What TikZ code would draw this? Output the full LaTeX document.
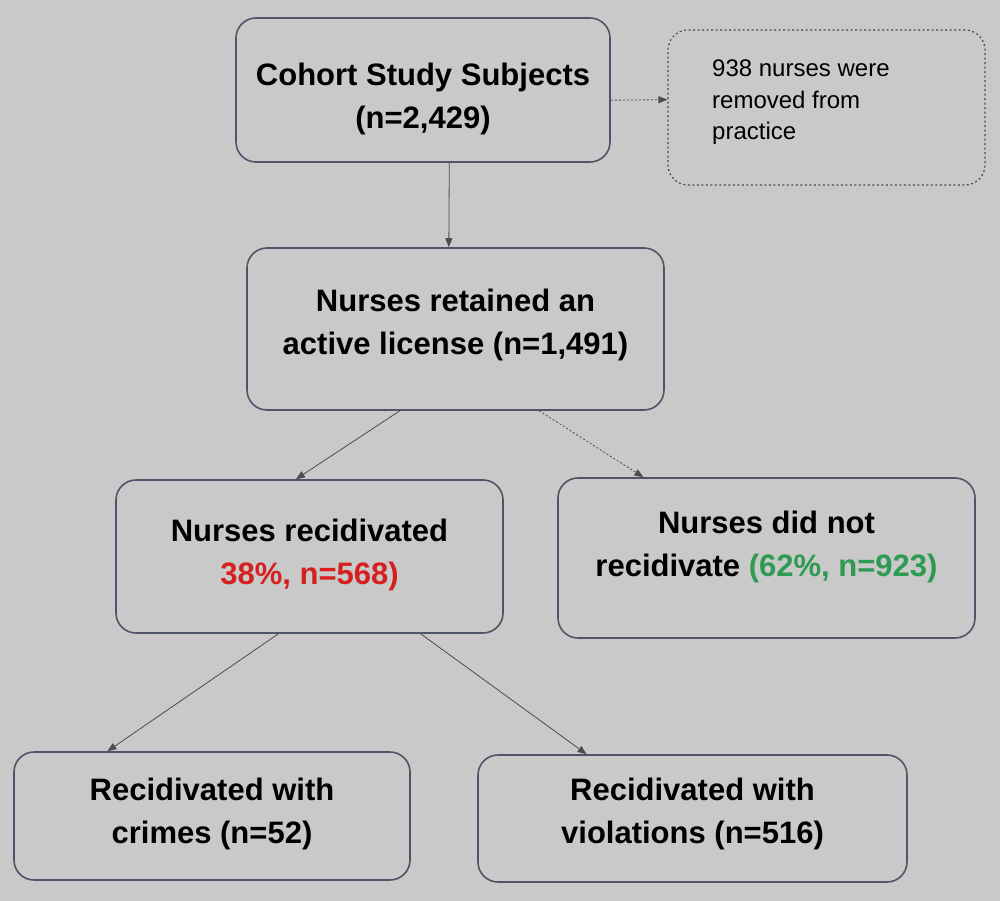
\documentclass[tikz,border=0pt]{standalone}
\usepackage{fontspec}
\setmainfont{Liberation Sans}
\usetikzlibrary{arrows.meta,calc}
\definecolor{bg}{HTML}{C9C9C9}
\definecolor{edge}{HTML}{4E5568}
\definecolor{redtxt}{HTML}{D62020}
\definecolor{greentxt}{HTML}{2E9A52}
\tikzset{
  box/.style={draw=edge, line width=1.6pt, rounded corners=20pt, inner sep=0pt},
  btxt/.style={inner sep=0pt, align=center, font=\bfseries\fontsize{31}{43}\selectfont},
  dbox/.style={draw=gray!60!black, line width=1.2pt, dash pattern=on 2pt off 2.5pt,
    rounded corners=20pt, inner sep=0pt},
  conn/.style={draw=black!70, line width=0.8pt, -{Triangle[length=9pt,width=7pt]}},
  dconn/.style={conn, dash pattern=on 2pt off 2pt},
}
\begin{document}
\begin{tikzpicture}[x=1pt,y=-1pt]
\fill[bg] (0,0) rectangle (1000,901);
\useasboundingbox (0,0) rectangle (1000,901);
% boxes
\node[box, minimum width=374pt, minimum height=144pt] (b1) at (423,90) {};
\node[btxt] (t1) at (423,99) {Cohort Study Subjects\\(n=2,429)};
\node[dbox, minimum width=317pt, minimum height=155pt] (d1) at (826.5,107.5) {};
\node[anchor=north west, align=left, inner sep=0pt, font=\fontsize{24}{31.5}\selectfont] (d1t) at (712,60)
  {938 nurses were\\removed from\\practice};
\node[box, minimum width=417pt, minimum height=162pt] (b2) at (455.5,329) {};
\node[btxt] (t2) at (455.5,324.5) {Nurses retained an\\active license (n=1,491)};
\node[box, minimum width=387pt, minimum height=153pt] (b3) at (309.5,556.5) {};
\node[btxt] (t3) at (309.5,554.5) {Nurses recidivated\\\textcolor{redtxt}{38\%, n=568)}};
\node[box, minimum width=417pt, minimum height=160pt] (b4) at (766.5,558) {};
\node[btxt] (t4) at (766.5,546.5) {Nurses did not\\recidivate \textcolor{greentxt}{(62\%, n=923)}};
\node[box, minimum width=396pt, minimum height=128pt] (b5) at (212,816) {};
\node[btxt] (t5) at (212,814) {Recidivated with\\crimes (n=52)};
\node[box, minimum width=429pt, minimum height=127pt] (b6) at (692.5,818.5) {};
\node[btxt] (t6) at (692.5,814) {Recidivated with\\violations (n=516)};
% connectors
\draw[dconn] ($(b1.north east)!0.57!(b1.south east)$) -- ($(d1.north west)!0.45!(d1.south west)$);
\draw[conn] ($(b1.south west)!0.57!(b1.south east)$) -- ($(b2.north west)!0.484!(b2.north east)$);
\draw[conn] ($(b2.south west)!0.367!(b2.south east)$) -- ($(b3.north west)!0.465!(b3.north east)$);
\draw[dconn] ($(b2.south west)!0.70!(b2.south east)$) -- ($(b4.north west)!0.206!(b4.north east)$);
\draw[conn] ($(b3.south west)!0.42!(b3.south east)$) -- ($(b5.north west)!0.237!(b5.north east)$);
\draw[conn] ($(b3.south west)!0.786!(b3.south east)$) -- ($(b6.north west)!0.254!(b6.north east)$);
\end{tikzpicture}
\end{document}
